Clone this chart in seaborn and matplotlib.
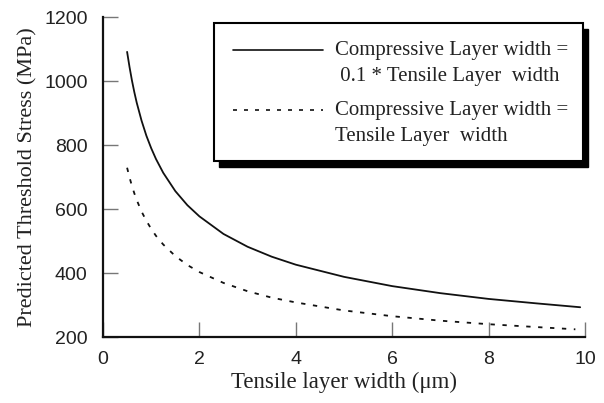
import numpy as np
import pandas as pd
import matplotlib
matplotlib.use("Agg")
import matplotlib.pyplot as plt
from matplotlib.patches import Rectangle
from matplotlib.lines import Line2D
import seaborn as sns

# Data
x_thin = [0.5, 0.55, 0.6, 0.65, 0.7, 0.8, 0.9, 1.0, 1.1, 1.25, 1.5, 1.75, 2.0, 2.5, 3.0, 3.5, 4.0, 5.0, 6.0, 7.0, 8.0, 9.0, 9.9]
y_thin = [1091, 1044, 1002, 965, 932, 876, 829, 790, 756, 713, 656, 612, 577, 522, 482, 451, 426, 388, 359, 337, 319, 305, 293]
x_equal = [0.5, 0.55, 0.6, 0.65, 0.7, 0.8, 0.9, 1.0, 1.1, 1.25, 1.5, 1.75, 2.0, 2.5, 3.0, 3.5, 4.0, 5.0, 6.0, 7.0, 8.0, 9.0, 9.8]
y_equal = [729, 699, 672, 649, 628, 592, 563, 538, 516, 489, 453, 425, 403, 369, 343, 323, 308, 283, 265, 251, 240, 231, 224]

label_thin = ["Compressive Layer width =", " 0.1 * Tensile Layer  width"]
label_equal = ["Compressive Layer width =", "Tensile Layer  width"]
x_ticks = [0, 2, 4, 6, 8, 10]
y_ticks = [200, 400, 600, 800, 1000, 1200]

sns.set_style("ticks")
plt.rcParams["font.family"] = ["Liberation Serif", "DejaVu Serif"]

W, H = 604, 403
fig = plt.figure(figsize=(W / 100, H / 100), dpi=100)
ax = fig.add_axes([103 / W, (H - 337) / H, 482 / W, 320 / H])

df = pd.concat([
    pd.DataFrame({"x": x_thin, "y": y_thin, "series": "thin"}),
    pd.DataFrame({"x": x_equal, "y": y_equal, "series": "equal"}),
])
sns.lineplot(data=df[df.series == "thin"], x="x", y="y", ax=ax, color="#111111",
             linewidth=1.3, legend=False, sort=True)
sns.lineplot(data=df[df.series == "equal"], x="x", y="y", ax=ax, color="#111111",
             linewidth=1.3, legend=False, sort=True)
ax.lines[1].set_dashes([2.4, 4.2])

ax.set_xlim(0, 10)
ax.set_ylim(200, 1200)
ax.set_xticks(x_ticks)
ax.set_yticks(y_ticks)
ax.set_xticklabels([str(t) for t in x_ticks], family="Liberation Sans", fontsize=14, color="#222222")
ax.set_yticklabels([str(t) for t in y_ticks], family="Liberation Sans", fontsize=14, color="#222222")
ax.tick_params(axis="both", direction="in", length=11, width=1.0, color="#777777")
ax.tick_params(axis="x", pad=10)
ax.tick_params(axis="y", pad=11)
sns.despine(ax=ax)
for s in ["left", "bottom"]:
    ax.spines[s].set_linewidth(1.6)
    ax.spines[s].set_color("#111111")

ax.set_xlabel("Tensile layer width (\u03bcm)", fontsize=16.5, color="#222222", labelpad=3)
ax.set_ylabel("Predicted Threshold Stress (MPa)", fontsize=16, color="#222222", labelpad=5)

# Legend box drawn in figure pixel coordinates
def fx(px):
    return px / W

def fy(py):
    return (H - py) / H

tf = fig.transFigure
bx0, bx1, by0, by1 = 214, 583, 23, 161
fig.patches.append(Rectangle((fx(bx0 + 5), fy(by1 + 6)), fx(bx1) - fx(bx0), fy(by0) - fy(by1),
                             transform=tf, facecolor="black", edgecolor="black", zorder=5))
fig.patches.append(Rectangle((fx(bx0), fy(by1)), fx(bx1) - fx(bx0), fy(by0) - fy(by1),
                             transform=tf, facecolor="white", edgecolor="black", linewidth=1.5, zorder=6))

fig.lines.append(Line2D([fx(233), fx(323)], [fy(50), fy(50)], transform=tf, color="#111111",
                        linewidth=1.2, zorder=7))
l2 = Line2D([fx(233), fx(323)], [fy(110), fy(110)], transform=tf, color="#111111",
            linewidth=1.2, zorder=7)
l2.set_dashes([2.4, 4.2])
fig.lines.append(l2)

fs = 15
fig.text(fx(335), fy(51), label_thin[0], fontsize=fs, va="center", ha="left", color="#222222", zorder=8)
fig.text(fx(335), fy(76), label_thin[1], fontsize=fs, va="center", ha="left", color="#222222", zorder=8)
fig.text(fx(335), fy(111), label_equal[0], fontsize=fs, va="center", ha="left", color="#222222", zorder=8)
fig.text(fx(335), fy(136), label_equal[1], fontsize=fs, va="center", ha="left", color="#222222", zorder=8)

fig.savefig("out.png", dpi=100, facecolor="white")
